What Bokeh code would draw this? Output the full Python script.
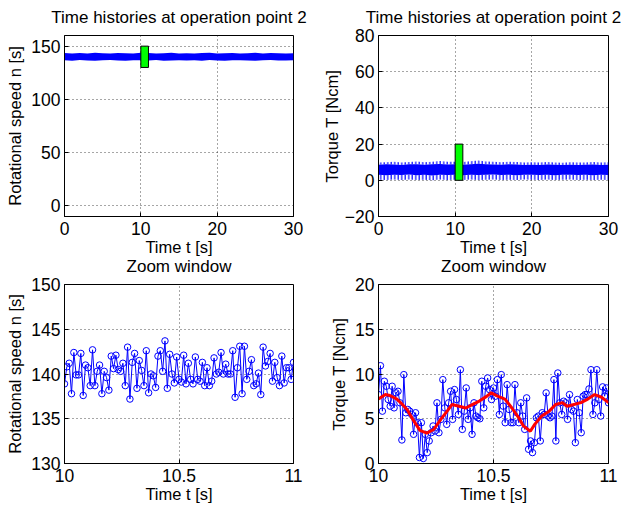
import numpy as np
from bokeh.plotting import figure
from bokeh.layouts import column, row
from bokeh.models import Range1d, FixedTicker
from bokeh.embed import file_html
from bokeh.resources import INLINE

# ---- data -----------------------------------------------------------------
# zoom window (time span and value spans of the highlighted boxes)
zoom_t = [10.0, 11.0]
zoom_speed = [130.0, 150.0]
zoom_torque = [0.0, 20.0]

# full 30 s histories, summarised per second as the envelope of the signal
hist_t = list(range(0, 31))
speed_hi = [143.6, 143.1, 143.5, 143.2, 143.8, 143.3, 143.0, 143.6, 143.4, 143.2,
            143.9, 143.5, 143.1, 143.3, 143.7, 143.2, 143.4, 143.0, 143.5, 143.8,
            143.2, 143.3, 143.6, 143.1, 143.4, 143.7, 143.2, 143.5, 143.3, 143.1, 143.4]
speed_lo = [136.8, 136.4, 136.9, 136.6, 136.3, 136.7, 137.0, 136.5, 136.4, 136.8,
            136.7, 136.5, 136.9, 136.3, 136.6, 136.8, 136.5, 136.7, 136.4, 136.9,
            136.6, 136.3, 136.7, 136.8, 136.5, 136.4, 136.7, 136.9, 136.5, 136.6, 136.7]

torque_peak = [9.8, 10.0, 10.3, 9.9, 10.1, 10.4, 10.0, 10.2, 10.6, 10.3,
               10.2, 10.1, 10.5, 11.0, 10.4, 10.2, 10.0, 10.3, 10.1, 9.9,
               10.0, 9.8, 10.1, 9.9, 9.7, 10.0, 9.9, 9.8, 10.1, 9.9, 10.0]
torque_core_hi = [8.6, 8.8, 8.7, 8.5, 8.9, 8.8, 8.6, 8.9, 9.0, 8.7,
                  8.8, 8.6, 8.9, 9.1, 8.8, 8.7, 8.6, 8.8, 8.7, 8.5,
                  8.6, 8.5, 8.7, 8.6, 8.4, 8.6, 8.5, 8.6, 8.7, 8.5, 8.6]
torque_core_lo = [3.0, 2.8, 3.1, 2.9, 3.2, 2.8, 3.0, 2.7, 3.1, 2.9,
                  3.0, 2.8, 3.1, 2.9, 3.0, 3.2, 2.9, 3.0, 2.8, 3.1,
                  3.0, 2.9, 3.1, 2.8, 3.0, 3.1, 2.9, 3.0, 2.8, 3.0, 2.9]
torque_min = [0.3, 0.1, 0.4, 0.2, 0.5, 0.2, 0.3, 0.0, 0.4, 0.2,
              0.3, 0.1, 0.4, 0.2, 0.3, 0.5, 0.2, 0.3, 0.1, 0.4,
              0.3, 0.2, 0.4, 0.1, 0.3, 0.4, 0.2, 0.3, 0.1, 0.3, 0.2]
# start-up transient of the torque signal
torque_start_t = [0.0, 0.0]
torque_start = [-18.0, 3.0]

# samples inside the zoom window
speed_zoom = [138.9, 140.8, 141.2, 137.8, 142.4, 139.9, 139.9, 142.3, 137.6, 141.0,
              140.7, 138.7, 142.7, 138.7, 140.3, 141.0, 137.8, 140.3, 139.6, 138.2,
              142.0, 140.6, 142.1, 140.5, 140.3, 141.2, 138.7, 143.0, 137.2, 141.3,
              142.3, 138.4, 141.5, 140.4, 138.7, 142.6, 137.9, 140.0, 139.8, 138.5,
              142.0, 142.6, 140.3, 143.7, 138.4, 142.2, 140.0, 139.0, 141.9, 139.4,
              139.1, 142.1, 138.9, 141.2, 139.4, 138.9, 141.9, 139.4, 139.2, 141.3,
              138.7, 140.7, 138.7, 139.2, 141.8, 140.0, 140.2, 142.4, 140.0, 141.1,
              140.0, 140.0, 142.6, 137.4, 140.7, 143.1, 137.8, 143.1, 139.4, 140.3,
              141.6, 138.7, 138.9, 140.1, 137.7, 143.0, 140.9, 141.4, 142.3, 139.2,
              141.3, 139.6, 138.7, 142.0, 139.0, 140.7, 140.7, 139.4, 141.3]

torque_zoom = [7.70, 10.93, 5.85, 9.19, 8.63, 7.15, 6.41, 8.63, 6.22, 7.89,
               8.07, 6.78, 2.63, 9.93, 5.67, 6.04, 5.85, 5.48, 3.26, 5.67,
               4.56, 0.67, 4.56, 0.56, 3.26, 1.22, 2.52, 3.44, 4.19, 3.63,
               6.78, 3.44, 4.93, 9.37, 6.22, 4.37, 6.78, 8.07, 4.93, 8.26,
               7.15, 5.48, 10.48, 3.81, 5.85, 8.44, 4.93, 6.22, 3.26, 6.78,
               5.30, 5.11, 5.00, 9.19, 6.22, 8.63, 9.56, 8.26, 7.15, 8.44,
               7.52, 9.37, 5.48, 9.93, 6.41, 4.56, 8.81, 6.04, 4.56, 4.56,
               8.81, 5.67, 4.56, 6.78, 5.30, 3.81, 7.33, 1.59, 2.52, 1.22,
               2.33, 5.11, 5.30, 2.52, 5.67, 5.48, 7.89, 5.30, 5.11, 5.30,
               9.37, 2.52, 10.11, 6.78, 5.48, 6.96, 6.78, 4.93, 7.70, 6.04,
               5.85, 2.33, 7.15, 5.67, 3.44, 7.52, 7.70, 7.70, 8.33, 10.48,
               5.48, 6.78, 10.48, 7.15, 5.30, 8.56, 7.52, 8.44, 6.78]

# smoothed torque inside the zoom window
trend_t = [10.00, 10.03, 10.05, 10.08, 10.10, 10.125, 10.15, 10.18, 10.21, 10.24,
           10.27, 10.30, 10.32, 10.35, 10.38, 10.41, 10.44, 10.47, 10.49, 10.52,
           10.55, 10.58, 10.61, 10.63, 10.66, 10.68, 10.71, 10.74, 10.77, 10.80,
           10.82, 10.85, 10.88, 10.91, 10.94, 10.97, 11.00]
trend = [7.2, 7.7, 7.6, 7.2, 6.7, 6.0, 4.9, 3.7, 3.4, 3.8,
         4.9, 5.9, 6.6, 6.4, 6.2, 6.6, 7.0, 7.5, 7.9, 7.5,
         7.2, 6.2, 5.1, 4.2, 3.6, 4.4, 5.3, 5.8, 6.6, 6.8,
         6.4, 6.6, 6.8, 7.2, 7.7, 7.4, 6.8]

title_top = "Time histories at operation point 2"
title_bottom = "Zoom window"
xlabel = "Time t [s]"
ylabel_speed = "Rotational speed n [s]"
ylabel_torque = "Torque T [Ncm]"

FONT = "Liberation Sans"
BLUE = "#0000ff"
RED = "#ff0000"
GREEN = "#00ff00"


def make_fig(title, xr, yr, xticks, yticks, ylabel, width, height,
             bl, br, bt, bb, ylab_standoff, title_standoff):
    p = figure(width=width, height=height,
               x_range=Range1d(*xr), y_range=Range1d(*yr),
               output_backend="svg", toolbar_location=None, title=title,
               min_border_left=bl, min_border_right=br,
               min_border_top=bt, min_border_bottom=bb)
    p.title.text_font = FONT
    p.title.text_font_size = "17px"
    p.title.text_font_style = "normal"
    p.title.text_color = "black"
    p.title.align = "center"
    p.title.standoff = title_standoff
    p.outline_line_color = "black"
    p.outline_line_alpha = 1.0
    p.outline_line_width = 1
    p.background_fill_color = "white"
    p.border_fill_alpha = 0.0

    p.xaxis.ticker = FixedTicker(ticks=xticks)
    p.yaxis.ticker = FixedTicker(ticks=yticks)
    p.xaxis.axis_label = xlabel
    p.yaxis.axis_label = ylabel
    for ax in (p.xaxis[0], p.yaxis[0]):
        ax.axis_line_color = "black"
        ax.major_tick_line_color = "black"
        ax.major_tick_in = 4
        ax.major_tick_out = 0
        ax.minor_tick_line_color = None
        ax.major_label_text_font = FONT
        ax.major_label_text_font_size = "17.5px"
        ax.major_label_text_color = "black"
        ax.axis_label_text_font = FONT
        ax.axis_label_text_font_size = "16.5px"
        ax.axis_label_text_font_style = "normal"
        ax.axis_label_text_color = "black"
    p.xaxis.major_label_standoff = 5
    p.xaxis.axis_label_standoff = 0
    p.yaxis.major_label_standoff = 4
    p.yaxis.axis_label_standoff = ylab_standoff

    for g in (p.xgrid[0], p.ygrid[0]):
        g.grid_line_color = "#222222"
        g.grid_line_alpha = 0.8
        g.grid_line_dash = "1 3"
        g.grid_line_width = 1
    return p


# ---- top left: rotational speed history ------------------------------------
p1 = make_fig(title_top, (0, 30), (-10, 160), [0, 10, 20, 30], [0, 50, 100, 150],
              ylabel_speed, 315, 270, 64, 22, 39, 50, 4, 17)
p1.varea(x=hist_t, y1=speed_lo, y2=speed_hi, fill_color=BLUE)
p1.quad(left=[zoom_t[0]], right=[zoom_t[1]], bottom=[zoom_speed[0]], top=[zoom_speed[1]],
        fill_color=GREEN, line_color="black", line_width=1)

# ---- top right: torque history ----------------------------------------------
p2 = make_fig(title_top, (0, 30), (-20, 80), [0, 10, 20, 30], [-20, 0, 20, 40, 60, 80],
              ylabel_torque, 308, 270, 63, 15, 39, 50, 1, 17)
p2.yaxis.major_label_overrides = {-20: "\u221220"}
p2.varea(x=hist_t, y1=torque_core_lo, y2=torque_core_hi, fill_color=BLUE)
p2.varea(x=hist_t, y1=torque_min, y2=torque_core_lo, fill_alpha=0,
         hatch_pattern="|", hatch_color=BLUE, hatch_scale=3.5, hatch_weight=1.2)
p2.varea(x=hist_t, y1=torque_core_hi, y2=torque_peak, fill_alpha=0,
         hatch_pattern="|", hatch_color=BLUE, hatch_scale=3.5, hatch_weight=1.2)
p2.line(torque_start_t, torque_start, line_color=BLUE, line_width=1)
p2.quad(left=[zoom_t[0]], right=[zoom_t[1]], bottom=[zoom_torque[0]], top=[zoom_torque[1]],
        fill_color=GREEN, line_color="black", line_width=1)

# ---- bottom left: speed in the zoom window ----------------------------------
t_speed = np.linspace(zoom_t[0], zoom_t[1], len(speed_zoom))
p3 = make_fig(title_bottom, tuple(zoom_t), tuple(zoom_speed), [10, 10.5, 11],
              [130, 135, 140, 145, 150], ylabel_speed, 315, 266, 64, 22, 37, 49, 4, 17)
p3.line(t_speed, speed_zoom, line_color=BLUE, line_width=1)
p3.scatter(t_speed, speed_zoom, marker="circle", size=6.5, fill_color=None,
           line_color=BLUE, line_width=1)

# ---- bottom right: torque in the zoom window --------------------------------
t_torque = np.linspace(zoom_t[0], zoom_t[1], len(torque_zoom))
p4 = make_fig(title_bottom, tuple(zoom_t), tuple(zoom_torque), [10, 10.5, 11],
              [0, 5, 10, 15, 20], ylabel_torque, 308, 266, 63, 15, 37, 49, 4, 17)
p4.line(t_torque, torque_zoom, line_color=BLUE, line_width=1)
p4.scatter(t_torque, torque_zoom, marker="circle", size=6.5, fill_color=None,
           line_color=BLUE, line_width=1)
p4.line(trend_t, trend, line_color=RED, line_width=3)

for p in (p3, p4):
    p.xaxis.major_label_overrides = {10: "10", 10.5: "10.5", 11: "11"}

# titles sit close to the page top; the lower row tucks its titles up
# under the upper row's axis labels
top_row = row(p1, p2, margin=(-4, 0, 0, 0))
bottom_row = row(p3, p4, margin=(-20, 0, 0, 0))
layout = column(top_row, bottom_row, background="white")
open("out.html", "w").write(file_html(layout, INLINE))
